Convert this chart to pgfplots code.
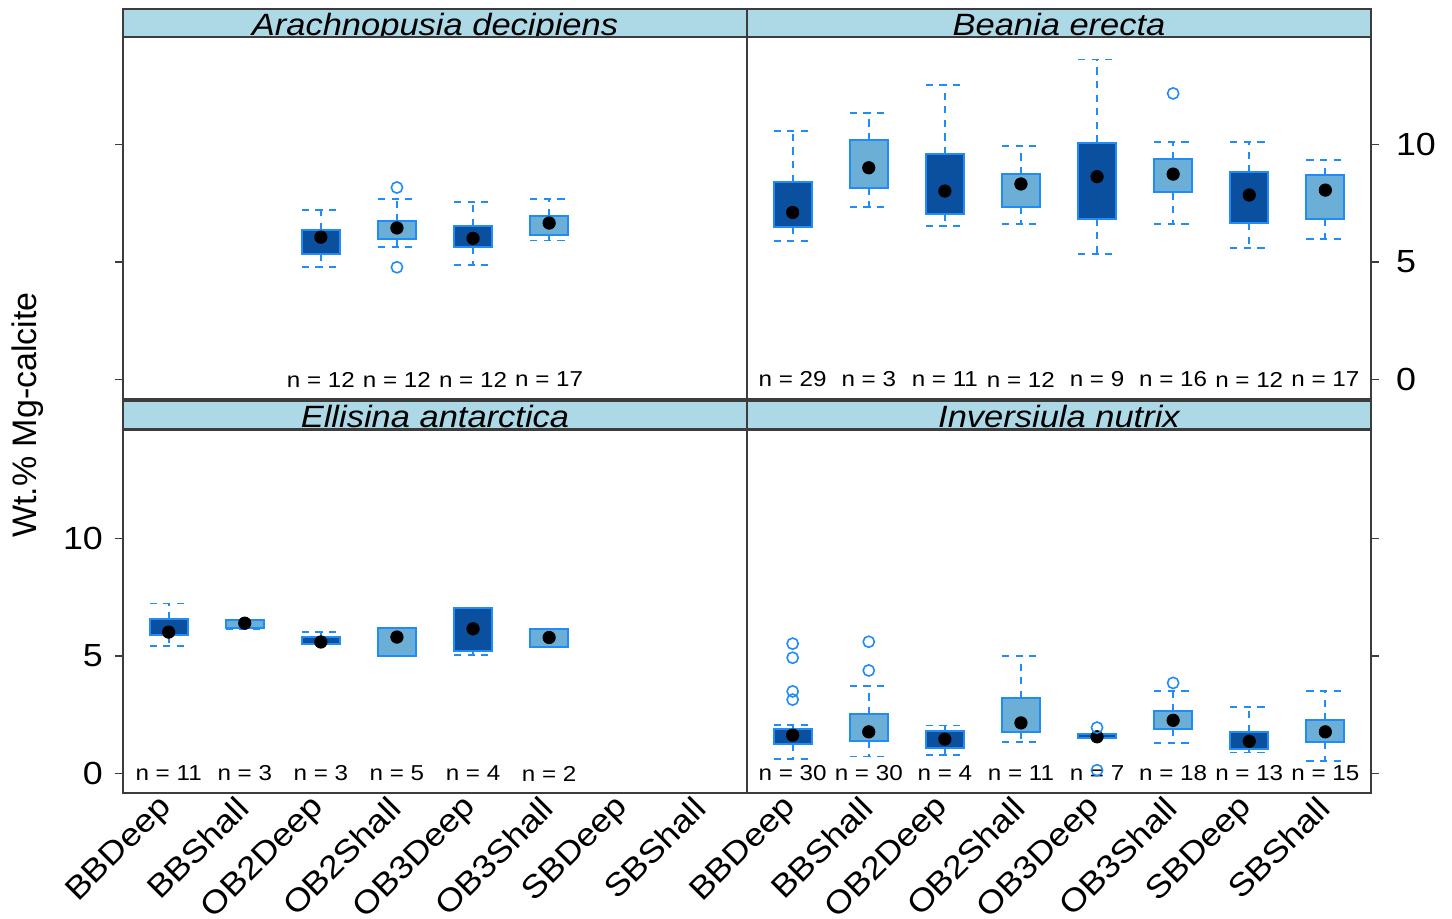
\documentclass[border=0pt]{standalone}
\usepackage{fontspec}
\setmainfont{Liberation Sans}[FakeStretch=1.12]
\newfontfamily\ylabfont{Liberation Sans}
\usepackage{pgfplots}
\pgfplotsset{compat=1.18}
\usepgfplotslibrary{statistics}

\definecolor{deepfill}{RGB}{10,80,158}
\definecolor{shallfill}{RGB}{107,174,214}
\definecolor{boxline}{RGB}{33,140,245}
\definecolor{stripfill}{RGB}{173,216,230}
\definecolor{frame}{RGB}{60,60,60}

\pgfplotsset{
  /pgf/number format/assume math mode=true,
  panel/.style={
    scale only axis, width=312pt, height=181.5pt,
    xmin=0.4, xmax=8.6, ymin=-0.83, ymax=14.6,
    clip=false,
    axis line style={draw=frame, line width=0.8pt},
    ytick={0,5,10},
    tick align=outside, major tick length=4pt,
    ytick style={draw=frame, line width=0.7pt},
    xtick style={draw=none},
    yticklabel style={font=\fontsize{16}{16}\selectfont},
    xticklabel style={font=\fontsize{16}{16}\selectfont, rotate=45, anchor=east, inner sep=1pt},
    boxplot/draw direction=y,
  },
  leftticks/.style={ytick pos=left, yticklabel style={xshift=-2.5pt}},
  rightticks/.style={ytick pos=right, yticklabel style={xshift=5pt}},
  xcats/.style={
    xtick={1,...,8},
    xticklabels={BBDeep,BBShall,OB2Deep,OB2Shall,OB3Deep,OB3Shall,SBDeep,SBShall},
  },
  bp/.style={
    draw=boxline, mark=o, mark size=2.8pt,
    mark options={draw=boxline, line width=0.8pt, solid},
    boxplot/box extend=0.5, boxplot/whisker extend=0.5,
    boxplot/every whisker/.style={draw=boxline, line width=0.9pt, dash pattern=on 3.6pt off 3.2pt},
    boxplot/draw/median/.code={%
      \fill[black] (boxplot box cs:\pgfplotsboxplotvalue{median},0.5) circle[radius=3.1pt];},
  },
  deep/.style={bp, boxplot/every box/.style={fill=deepfill, draw=boxline, line width=1pt}},
  shall/.style={bp, boxplot/every box/.style={fill=shallfill, draw=boxline, line width=1pt}},
}

% one box: #1 style, #2 position, #3..#7 lower whisker, Q1, median, Q3, upper whisker
\newcommand\bx[7]{%
  \addplot[#1, boxplot prepared={draw position=#2, lower whisker=#3,
    lower quartile=#4, median=#5, upper quartile=#6, upper whisker=#7}] coordinates {};}
% the same, with outliers listed in #8
\newcommand\bxo[8]{%
  \addplot[#1, boxplot prepared={draw position=#2, lower whisker=#3,
    lower quartile=#4, median=#5, upper quartile=#6, upper whisker=#7}]
    table[row sep=\\, y index=0] {y\\ #8};}
\newcommand\nlab[2]{\node[font=\fontsize{10.8}{10.8}\selectfont] at (axis cs:#1,0) {n = #2};}

\begin{document}
\begin{tikzpicture}
\useasboundingbox (0pt,0pt) rectangle (726pt,-459pt);

% Arachnopusia decipiens
\begin{axis}[panel, leftticks, at={(61.5pt,-199.5pt)}, anchor=south west,
  yticklabels={}, xtick=\empty]
  \bx{deep}{3}{4.77}{5.33}{6.05}{6.36}{7.21}
  \bxo{shall}{4}{5.62}{5.97}{6.44}{6.72}{7.67}{8.16\\ 4.77\\}
  \bx{deep}{5}{4.85}{5.62}{6.00}{6.53}{7.54}
  \bx{shall}{6}{5.91}{6.15}{6.65}{6.96}{7.67}
  \nlab{3}{12}\nlab{4}{12}\nlab{5}{12}\nlab{6}{17}
\end{axis}

% Beania erecta
\begin{axis}[panel, rightticks, at={(373.5pt,-199.5pt)}, anchor=south west,
  xtick=\empty]
  \bx{deep}{1}{5.90}{6.50}{7.10}{8.40}{10.56}
  \bx{shall}{2}{7.33}{8.15}{9.00}{10.17}{11.33}
  \bx{deep}{3}{6.53}{7.03}{8.01}{9.58}{12.53}
  \bx{shall}{4}{6.62}{7.34}{8.31}{8.73}{9.94}
  \bx{deep}{5}{5.34}{6.84}{8.62}{10.07}{13.60}
  \bxo{shall}{6}{6.60}{7.95}{8.73}{9.36}{10.10}{12.16\\}
  \bx{deep}{7}{5.59}{6.64}{7.84}{8.80}{10.08}
  \bx{shall}{8}{5.96}{6.81}{8.05}{8.69}{9.34}
  \nlab{1}{29}\nlab{2}{3}\nlab{3}{11}\nlab{4}{12}
  \nlab{5}{9}\nlab{6}{16}\nlab{7}{12}\nlab{8}{17}
\end{axis}

% Ellisina antarctica
\begin{axis}[panel, leftticks, xcats, at={(61.5pt,-396.5pt)}, anchor=south west]
  \bx{deep}{1}{5.43}{5.87}{6.01}{6.55}{7.23}
  \bx{shall}{2}{6.15}{6.18}{6.39}{6.51}{6.52}
  \bx{deep}{3}{5.49}{5.49}{5.59}{5.80}{6.01}
  \bx{shall}{4}{4.99}{4.99}{5.80}{6.18}{6.18}
  \bx{deep}{5}{5.02}{5.19}{6.15}{7.03}{7.03}
  \bx{shall}{6}{5.39}{5.39}{5.78}{6.14}{6.14}
  \nlab{1}{11}\nlab{2}{3}\nlab{3}{3}\nlab{4}{5}\nlab{5}{4}\nlab{6}{2}
\end{axis}

% Inversiula nutrix
\begin{axis}[panel, rightticks, xcats, at={(373.5pt,-396.5pt)}, anchor=south west,
  yticklabels={}]
  \bxo{deep}{1}{0.61}{1.27}{1.63}{1.90}{2.05}{5.52\\ 4.92\\ 3.49\\ 3.14\\}
  \bxo{shall}{2}{0.72}{1.39}{1.77}{2.52}{3.71}{5.60\\ 4.38\\}
  \bx{deep}{3}{0.79}{1.09}{1.46}{1.80}{2.04}
  \bx{shall}{4}{1.33}{1.77}{2.15}{3.21}{4.98}
  \bxo{deep}{5}{1.49}{1.49}{1.56}{1.67}{1.67}{1.95\\ 0.14\\}
  \bxo{shall}{6}{1.30}{1.91}{2.26}{2.64}{3.52}{3.85\\}
  \bx{deep}{7}{0.89}{1.02}{1.37}{1.77}{2.83}
  \bx{shall}{8}{0.54}{1.34}{1.77}{2.26}{3.49}
  \nlab{1}{30}\nlab{2}{30}\nlab{3}{4}\nlab{4}{11}
  \nlab{5}{7}\nlab{6}{18}\nlab{7}{13}\nlab{8}{15}
\end{axis}

% strips with panel titles
\foreach \x/\y/\t in {61.5/-18.5/Arachnopusia decipiens, 373.5/-18.5/Beania erecta,
                      61.5/-214.5/Ellisina antarctica, 373.5/-214.5/Inversiula nutrix}{
  \fill[stripfill] (\x pt,\y pt) rectangle ++(312pt,14pt);
  \begin{scope}
    \clip (\x pt,\y pt) rectangle ++(312pt,14pt);
    \node[anchor=base, inner sep=0pt, font=\fontsize{15.4}{15.4}\selectfont\itshape]
      at (\x pt+156pt,\y pt+0.6pt) {\t};
  \end{scope}
  \draw[frame, line width=0.8pt] (\x pt,\y pt) rectangle ++(312pt,14pt);
}

\node[rotate=90, font=\ylabfont\fontsize{17}{17}\selectfont] at (14pt,-207.5pt) {Wt.\% Mg-calcite};
\end{tikzpicture}
\end{document}
